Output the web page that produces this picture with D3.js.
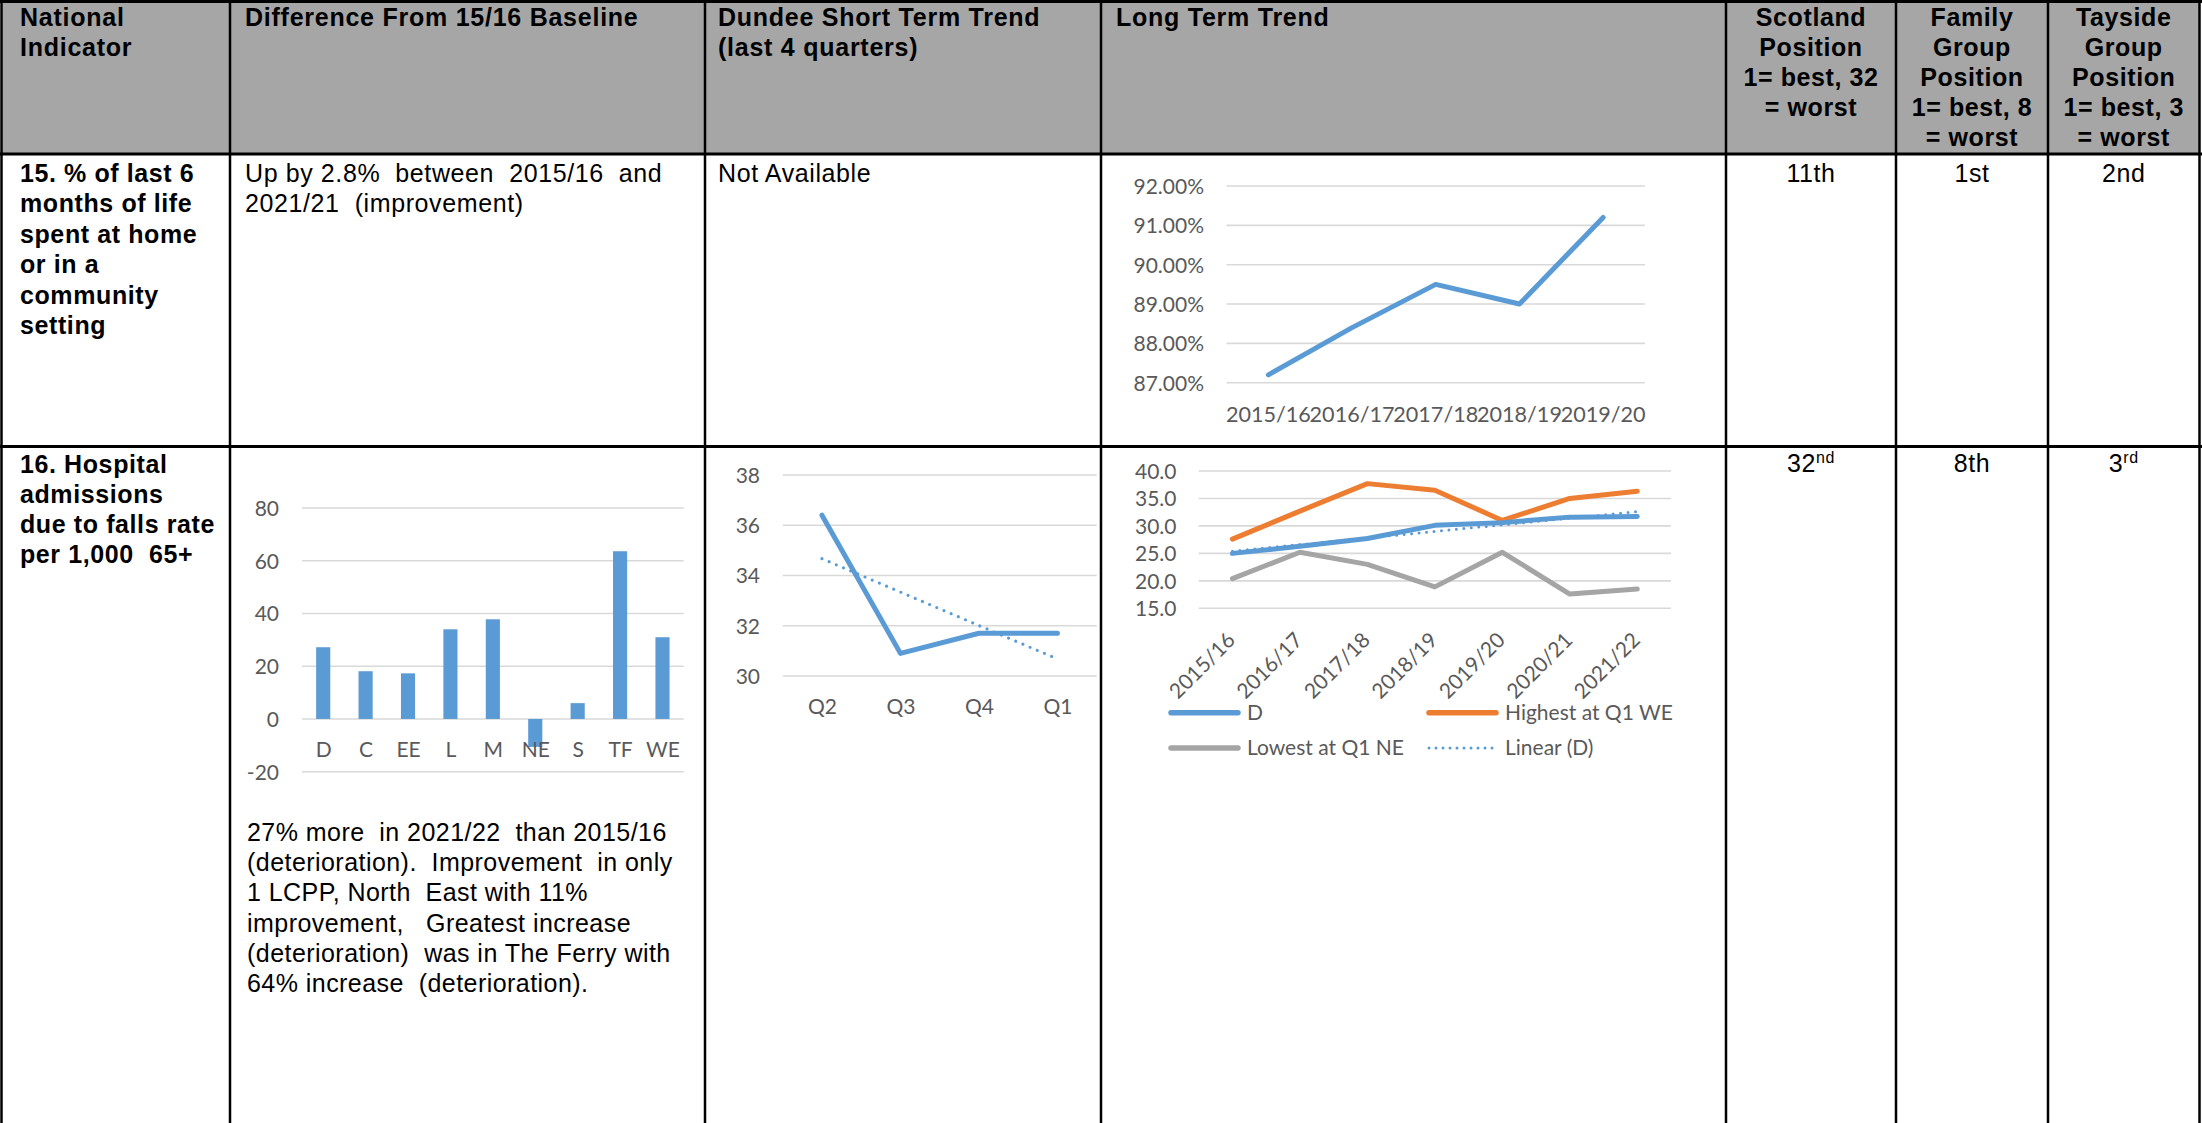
<!DOCTYPE html>
<html><head><meta charset="utf-8">
<script src="https://cdn.jsdelivr.net/npm/d3@7"></script>
<style>
body{margin:0;background:#fff;}
svg{display:block;}
text{white-space:pre;}
</style></head><body>
<svg id="c" width="2202" height="1123"></svg>
<script>
// ---------- DATA ----------
const headerCols = [
  ["National","Indicator"],
  ["Difference From 15/16 Baseline"],
  ["Dundee Short Term Trend","(last 4 quarters)"],
  ["Long Term Trend"],
  ["Scotland","Position","1= best, 32","= worst"],
  ["Family","Group","Position","1= best, 8","= worst"],
  ["Tayside","Group","Position","1= best, 3","= worst"]
];
const row1Indicator = ["15. % of last 6","months of life","spent at home","or in a","community","setting"];
const row1Difference = ["Up by 2.8%  between  2015/16  and","2021/21  (improvement)"];
const row1Short = ["Not Available"];
const row1Positions = [["11th",""],["1st",""],["2nd",""]];
const row2Indicator = ["16. Hospital","admissions","due to falls rate","per 1,000  65+"];
const row2Difference = ["27% more  in 2021/22  than 2015/16","(deterioration).  Improvement  in only","1 LCPP, North  East with 11%","improvement,   Greatest increase","(deterioration)  was in The Ferry with","64% increase  (deterioration)."];
const row2Positions = [["32","nd"],["8th",""],["3","rd"]];

// Chart A: % of last 6 months at home
const yearsA = ["2015/16","2016/17","2017/18","2018/19","2019/20"];
const valuesA = [87.2, 88.4, 89.5, 89.0, 91.2];
const ticksA = [87, 88, 89, 90, 91, 92];

// Chart B: difference from baseline by LCPP
const lcpp = ["D","C","EE","L","M","NE","S","TF","WE"];
const lcppChange = [27.2, 18.1, 17.3, 34.0, 37.8, -10.6, 6.0, 63.6, 31.0];
const ticksB = [-20, 0, 20, 40, 60, 80];

// Chart C: Dundee short term trend
const quarters = ["Q2","Q3","Q4","Q1"];
const dundeeQuarterly = [36.4, 30.9, 31.7, 31.7];
const ticksC = [30, 32, 34, 36, 38];

// Chart D: long term trend falls
const yearsD = ["2015/16","2016/17","2017/18","2018/19","2019/20","2020/21","2021/22"];
const dundeeAnnual = [25.0, 26.3, 27.7, 30.1, 30.6, 31.6, 31.7];
const highestWE = [27.6, 32.7, 37.7, 36.5, 31.0, 35.0, 36.3];
const lowestNE = [20.4, 25.2, 23.0, 18.9, 25.2, 17.6, 18.5];
const ticksD = [15, 20, 25, 30, 35, 40];
const legendD = ["D","Highest at Q1 WE","Lowest at Q1 NE","Linear (D)"];

// ---------- STYLE ----------
const TF = "'Liberation Sans', Arial, sans-serif";
const CF = "Lato, 'Open Sans', sans-serif";
const TS = 25, CS = 21;
const BLUE = "#5B9BD5", ORANGE = "#ED7D31", GREY = "#A5A5A5";
const GRID = "#d9d9d9", LAB = "#595959";

const svg = d3.select("#c");
const colX = [1.5, 230, 705, 1101, 1726, 1896, 2048, 2199.5];
const rowY = [1.5, 154, 446.5];

// header background
svg.append("rect").attr("x",colX[0]).attr("y",rowY[0]).attr("width",colX[7]-colX[0]).attr("height",rowY[1]-rowY[0]).attr("fill","#a6a6a6");

function lines(g, arr, x, y0, dy, opts) {
  return g.selectAll(null).data(arr).join("text")
    .attr("x", x).attr("y", (d,i)=>y0 + i*dy)
    .attr("font-family", TF).attr("font-size", TS).attr("letter-spacing", opts.ls != null ? opts.ls : 0.6)
    .attr("font-weight", opts.bold ? "bold" : "normal")
    .attr("text-anchor", opts.anchor || "start")
    .attr("fill", "#000")
    .text(d=>d);
}
const tg = svg.append("g");
// header texts
const hdrX = [20, 245, 718, 1116];
headerCols.forEach((col, i) => {
  if (i < 4) lines(tg, col, hdrX[i], 26, 30, {bold:true, ls:0.75});
  else lines(tg, col, (colX[i]+colX[i+1])/2, 26, 30, {bold:true, anchor:"middle", ls:0.6});
});
// row 1
lines(tg, row1Indicator, 20, 182, 30.4, {bold:true});
lines(tg, row1Difference, 245, 182, 30, {});
lines(tg, row1Short, 718, 182, 30, {});
function positions(arr, y) {
  arr.forEach((p, i) => {
    const t = tg.append("text").attr("x",(colX[i+4]+colX[i+5])/2).attr("y",y)
      .attr("font-family",TF).attr("font-size",TS).attr("letter-spacing",0.6).attr("text-anchor","middle");
    t.append("tspan").text(p[0]);
    if (p[1]) t.append("tspan").attr("font-size",16).attr("dy",-9).text(p[1]);
  });
}
positions(row1Positions, 182);
// row 2
lines(tg, row2Indicator, 20, 473, 30, {bold:true});
lines(tg, row2Difference, 247, 841, 30.2, {ls:0.45});
positions(row2Positions, 472);

// ---------- helpers ----------
function yGrid(g, y, ticks, x0, x1, labelX, fmt) {
  g.append("g").selectAll("line").data(ticks).join("line")
    .attr("x1",x0).attr("x2",x1).attr("y1",d=>y(d)).attr("y2",d=>y(d))
    .attr("stroke",GRID).attr("stroke-width",1.6);
  const ax = d3.axisLeft(y).tickValues(ticks).tickSize(0).tickPadding(0).tickFormat(fmt);
  const a = g.append("g").attr("transform",`translate(${labelX},0)`).call(ax);
  a.select(".domain").remove();
  a.selectAll("text").attr("font-family",CF).attr("font-size",CS).attr("fill",LAB).attr("dy","0.35em");
}
function xLabels(g, x, yPos, size) {
  const ax = d3.axisBottom(x).tickSize(0).tickPadding(0);
  const a = g.append("g").attr("transform",`translate(0,${yPos})`).call(ax);
  a.select(".domain").remove();
  a.selectAll("text").attr("font-family",CF).attr("font-size",size || CS).attr("fill",LAB).attr("y",0).attr("dy","0.35em");
  return a;
}
function linReg(vals) {
  const n = vals.length, xs = d3.range(n);
  const mx = d3.mean(xs), my = d3.mean(vals);
  const b = d3.sum(xs, i => (i-mx)*(vals[i]-my)) / d3.sum(xs, i => (i-mx)*(i-mx));
  return xs.map(i => my + b*(i-mx));
}
const hyphenInt = d => String(d);

// ---------- Chart A ----------
{
  const g = svg.append("g");
  const x = d3.scaleBand().domain(yearsA).range([1226.5, 1645]);
  const y = d3.scaleLinear().domain([87, 92]).range([382.7, 186]);
  yGrid(g, y, ticksA, 1226.5, 1645, 1204, d => d3.format(".2f")(d) + "%");
  xLabels(g, x, 414, 21.6);
  g.append("path").datum(valuesA)
    .attr("d", d3.line().x((d,i)=>x(yearsA[i]) + x.bandwidth()/2).y(d=>y(d)))
    .attr("fill","none").attr("stroke",BLUE).attr("stroke-width",5).attr("stroke-linecap","round").attr("stroke-linejoin","round");
}

// ---------- Chart B ----------
{
  const g = svg.append("g");
  const x = d3.scaleBand().domain(lcpp).range([302, 683.7]).paddingInner(2/3).paddingOuter(1/3);
  const y = d3.scaleLinear().domain([-20, 80]).range([771.7, 508]);
  yGrid(g, y, ticksB, 302, 683.7, 279, hyphenInt);
  g.append("g").selectAll("rect").data(lcppChange).join("rect")
    .attr("x",(d,i)=>x(lcpp[i])).attr("width",x.bandwidth())
    .attr("y",d=>y(Math.max(0,d))).attr("height",d=>Math.abs(y(d)-y(0)))
    .attr("fill",BLUE);
  const step = x.step();
  const xl = d3.scalePoint().domain(lcpp).range([302 + step/2, 683.7 - step/2]);
  xLabels(g, xl, 750);
}

// ---------- Chart C ----------
{
  const g = svg.append("g");
  const x = d3.scalePoint().domain(quarters).range([782.7, 1096.7]).padding(0.5);
  const y = d3.scaleLinear().domain([30, 38]).range([676, 475]);
  yGrid(g, y, ticksC, 782.7, 1096.7, 760, hyphenInt);
  xLabels(g, x, 706.7);
  const ln = d3.line().x((d,i)=>x(quarters[i])).y(d=>y(d));
  g.append("path").datum(dundeeQuarterly).attr("d",ln)
    .attr("fill","none").attr("stroke",BLUE).attr("stroke-width",5).attr("stroke-linecap","round").attr("stroke-linejoin","round");
  g.append("path").datum(linReg(dundeeQuarterly)).attr("d",ln)
    .attr("fill","none").attr("stroke",BLUE).attr("stroke-width",3.2).attr("stroke-linecap","round").attr("stroke-dasharray","0,7.8");
}

// ---------- Chart D ----------
{
  const g = svg.append("g");
  const x = d3.scalePoint().domain(yearsD).range([1198.7, 1671]).padding(0.5);
  const y = d3.scaleLinear().domain([15, 40]).range([608.3, 471]);
  yGrid(g, y, ticksD, 1198.7, 1671, 1176.5, d3.format(".1f"));
  const a = xLabels(g, x, 641.5);
  a.selectAll("text").attr("text-anchor","end").attr("dy",0).attr("transform","translate(3.5,0) rotate(-45)");
  const ln = d3.line().x((d,i)=>x(yearsD[i])).y(d=>y(d));
  const series = [[lowestNE, GREY],[highestWE, ORANGE],[dundeeAnnual, BLUE]];
  series.forEach(([vals, col]) => {
    g.append("path").datum(vals).attr("d",ln).attr("fill","none").attr("stroke",col)
      .attr("stroke-width",5).attr("stroke-linecap","round").attr("stroke-linejoin","round");
  });
  g.append("path").datum(linReg(dundeeAnnual)).attr("d",ln)
    .attr("fill","none").attr("stroke",BLUE).attr("stroke-width",3).attr("stroke-linecap","round").attr("stroke-dasharray","0,7.5");
  // legend
  const items = [
    {t:legendD[0], c:BLUE, dash:null, x:1169, y:712.7},
    {t:legendD[1], c:ORANGE, dash:null, x:1427, y:712.7},
    {t:legendD[2], c:GREY, dash:null, x:1169, y:748},
    {t:legendD[3], c:BLUE, dash:"0,7", x:1427, y:748}
  ];
  items.forEach(it => {
    g.append("line").attr("x1",it.x+2).attr("x2",it.x+69).attr("y1",it.y).attr("y2",it.y)
      .attr("stroke",it.c).attr("stroke-width",it.dash?3:5.5).attr("stroke-linecap","round")
      .attr("stroke-dasharray",it.dash);
    g.append("text").attr("x",it.x+78).attr("y",it.y).attr("dy","0.35em")
      .attr("font-family",CF).attr("font-size",CS).attr("fill",LAB).text(it.t);
  });
}

// ---------- table borders ----------
const bg = svg.append("g").attr("stroke","#000");
rowY.forEach(yy => bg.append("line").attr("x1",0).attr("x2",2202).attr("y1",yy).attr("y2",yy).attr("stroke-width",3));
colX.forEach(xx => bg.append("line").attr("x1",xx).attr("x2",xx).attr("y1",0).attr("y2",1123).attr("stroke-width",2.5));
</script>
</body></html>
